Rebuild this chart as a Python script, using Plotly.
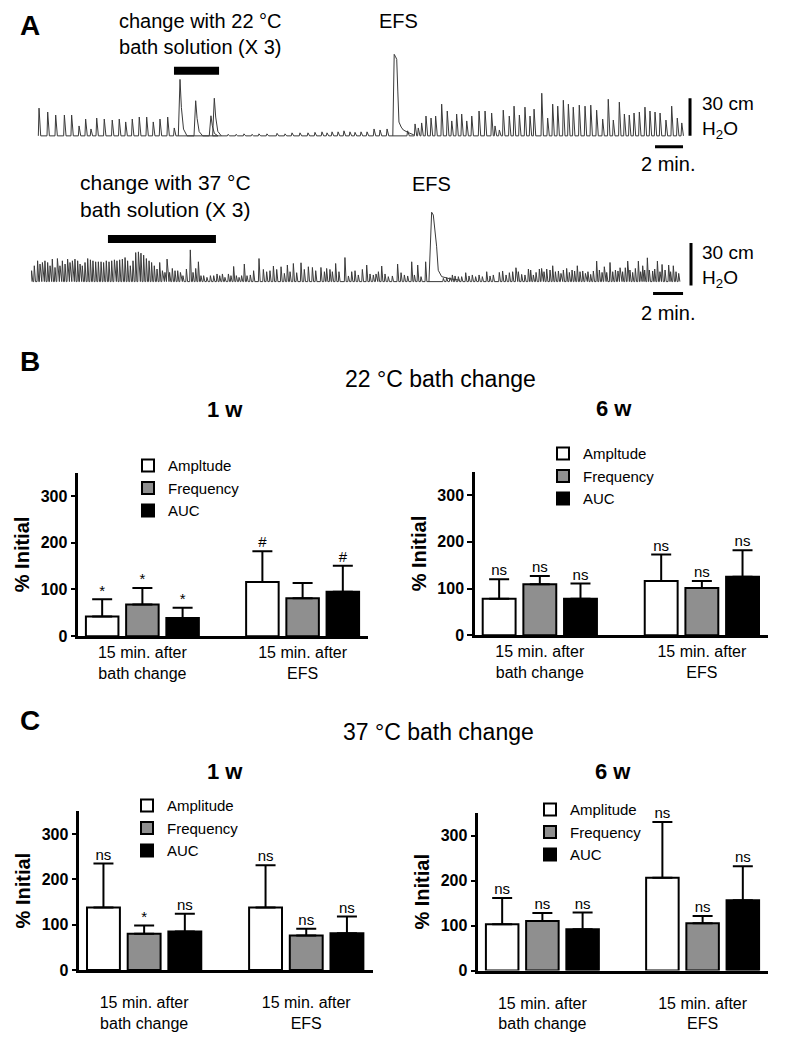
import plotly.graph_objects as go

# reference canvas size; the page body adds an 8 px margin, so the figure is
# drawn 8 px smaller and every position is shifted by that margin
W, H = 785, 1050
PAGE_MARGIN = 8
FIG_W, FIG_H = W - PAGE_MARGIN, H - PAGE_MARGIN
FONT = "Liberation Sans, Arial, sans-serif"

# ---------------------------------------------------------------------------
# Panel A: pressure recordings (time in min, pressure in cm H2O)
# ---------------------------------------------------------------------------
top_spike_t = [0.43, 1.05, 1.62, 2.24, 2.76, 3.29, 3.76, 4.14, 4.55, 5.09,
               5.66, 6.16, 6.62, 7.09, 7.59, 8.12, 8.59, 9.07, 9.62, 10.09,
               13.93, 14.5, 15.07, 15.64, 16.14, 16.71, 17.43, 18.0, 18.5, 19.07,
               19.64, 20.14, 20.64, 21.0, 21.36, 21.79, 22.21, 22.64, 23.0, 23.43,
               23.86, 24.36, 24.79, 25.29,
               26.76, 27.29, 27.52, 27.76, 28.07, 28.43, 28.76, 29.19, 29.59, 29.91,
               30.26, 30.62, 30.98, 31.34, 31.86, 32.29, 32.76, 33.0, 33.31, 33.59,
               34.02, 34.36, 34.74, 35.14, 35.5, 35.79, 36.34, 36.76, 37.12, 37.48,
               37.88, 38.24, 38.59, 39.02, 39.43, 39.84, 40.26, 40.69, 41.09, 41.45,
               41.88, 42.24, 42.59, 42.93, 43.31, 43.71, 44.07, 44.43, 44.79, 45.21,
               45.62, 46.02, 46.34]
top_spike_h = [22.1, 19.0, 16.6, 16.6, 16.6, 7.9, 13.4, 5.5, 14.2, 13.4,
               12.6, 13.4, 11.1, 13.4, 15.0, 15.0, 11.1, 13.4, 15.0, 6.3,
               1.2, 1.2, 1.6, 1.2, 1.6, 1.6, 2.0, 1.6, 2.4, 2.4,
               2.4, 2.8, 3.2, 2.4, 3.2, 3.2, 4.0, 3.2, 2.8, 3.2,
               3.2, 5.5, 4.7, 5.5,
               4.0, 9.5, 6.3, 10.3, 15.8, 14.2, 15.8, 25.3, 19.8, 11.9,
               17.4, 17.4, 11.9, 15.8, 19.8, 19.8, 18.2, 7.9, 4.7, 20.5,
               15.8, 23.7, 16.6, 22.9, 15.8, 21.3, 34.0, 14.2, 25.3, 23.7,
               28.4, 25.3, 22.9, 24.5, 23.7, 24.5, 20.5, 13.4, 29.2, 12.6,
               26.9, 17.4, 16.6, 18.2, 19.0, 22.9, 19.8, 19.0, 18.2, 12.6,
               23.7, 14.2, 10.3]
top_slow_t = [10.5, 11.62, 12.71, 12.95]
top_slow_h = [45.0, 28.0, 16.0, 30.0]
top_efs_t = [25.70, 25.76, 25.80, 25.90, 25.98, 26.06, 26.14, 26.30, 26.45, 26.81, 27.2]
top_efs_p = [0, 50, 65, 63, 61, 35, 11, 7, 4.7, 2.6, 0.8]
top_bath = [10.07, 13.29]

bot_spike_t = [0.04, 0.22, 0.44, 0.60, 0.76, 0.93, 1.11, 1.27, 1.42, 1.60,
               1.76, 1.93, 2.09, 2.27, 2.44, 2.60, 2.76, 2.93, 3.11, 3.27,
               3.42, 3.60, 3.78, 3.96, 4.13, 4.31, 4.49, 4.67, 4.84, 5.02,
               5.20, 5.38, 5.56, 5.73, 5.91, 6.09, 6.27, 6.44, 6.62, 6.80,
               6.98, 7.16, 7.33, 7.51, 7.69, 7.87, 8.04, 8.22, 8.40, 8.58,
               8.76, 8.93, 9.07, 9.24, 9.42, 9.60, 9.78, 9.96, 10.13, 10.36,
               10.62, 10.80, 10.98, 11.16, 11.33, 11.51, 11.73, 11.96, 12.18, 12.40,
               12.58, 12.76, 12.93, 13.16, 13.33, 13.51, 13.69, 13.87, 14.04, 14.22,
               14.40, 14.62, 14.84,
               15.20, 15.49, 15.71, 15.93, 16.16, 16.38, 16.67, 16.89, 17.09, 17.27,
               17.49, 17.71, 18.0, 18.22, 18.49, 18.76, 18.98, 19.33, 19.56, 19.71,
               19.93, 20.09, 20.31, 20.53, 20.93, 21.16, 21.38, 21.60, 21.82, 22.09,
               22.38, 22.60, 22.82, 23.0, 23.16, 23.38, 23.60, 23.82, 24.09, 24.44,
               24.67, 24.89, 25.11, 25.38, 25.56, 25.78, 26.0, 26.31,
               27.49, 27.71, 27.93, 28.09, 28.27, 28.49, 28.71, 28.98, 29.20, 29.42,
               29.64, 29.87, 30.09, 30.38, 30.60, 30.82,
               31.22, 31.44, 31.67, 31.89, 32.11, 32.33, 32.49, 32.71, 32.93, 33.16,
               33.31, 33.49, 33.67, 33.89, 34.04, 34.20, 34.38, 34.60, 34.78, 34.96,
               35.16, 35.33, 35.49, 35.71, 35.89, 36.07, 36.24, 36.42, 36.60, 36.78,
               36.96, 37.13, 37.31, 37.49, 37.71, 37.89, 38.07, 38.22, 38.38, 38.60,
               38.78, 38.96, 39.13, 39.27, 39.44, 39.62, 39.78, 39.93, 40.11, 40.29,
               40.49, 40.64, 40.78, 40.91, 41.09, 41.22, 41.44, 41.58, 41.76, 41.93,
               42.07, 42.27, 42.51, 42.64, 42.82, 43.0, 43.18]
bot_spike_h = [7.7, 11.2, 14.7, 12.4, 13.5, 14.7, 13.5, 11.2, 15.9, 10.0,
               16.3, 11.2, 14.7, 12.4, 15.9, 13.5, 14.7, 15.9, 14.7, 12.4,
               11.2, 13.5, 16.3, 15.4, 14.7, 14.0, 14.0, 14.0, 13.5, 14.7,
               14.0, 14.7, 15.4, 14.7, 15.4, 15.9, 17.0, 14.7, 11.2, 14.7,
               20.5, 21.0, 20.1, 18.7, 16.3, 14.7, 13.5, 11.2, 8.9, 13.5,
               7.7, 6.5, 15.9, 6.5, 9.3, 7.7, 7.7, 6.5, 4.2, 8.9,
               22.4, 6.5, 9.3, 14.0, 4.2, 4.2, 3.0, 4.2, 4.2, 5.4,
               4.2, 5.4, 3.0, 5.4, 4.2, 10.7, 4.2, 3.0, 4.2, 12.4,
               4.2, 4.7, 7.7,
               16.3, 8.6, 7.0, 7.7, 11.0, 8.6, 10.5, 5.8, 11.7, 7.0,
               12.8, 6.3, 13.3, 8.6, 10.5, 10.0, 7.7, 10.0, 7.0, 9.3,
               8.6, 7.0, 12.8, 7.0, 17.0, 4.0, 7.0, 7.7, 4.7, 8.6,
               11.7, 5.4, 4.7, 5.4, 7.0, 11.0, 5.4, 3.5, 4.0, 12.4,
               6.3, 4.7, 4.0, 14.0, 4.7, 11.7, 3.5, 14.0,
               2.3, 2.8, 2.8, 4.7, 4.0, 3.5, 3.5, 6.3, 4.0, 4.7,
               3.5, 4.7, 3.5, 7.0, 4.0, 4.7,
               6.5, 7.5, 4.7, 6.3, 7.0, 9.8, 7.0, 5.1, 4.7, 8.9,
               8.2, 4.7, 6.5, 8.9, 9.3, 7.0, 8.9, 8.2, 11.2, 7.0,
               7.5, 5.8, 8.2, 9.3, 6.5, 8.2, 7.5, 11.2, 7.0, 7.5,
               5.8, 7.0, 5.1, 7.5, 14.5, 8.2, 6.5, 10.5, 6.5, 13.5,
               7.0, 8.2, 7.5, 9.8, 7.0, 9.8, 14.5, 8.2, 6.5, 9.3,
               14.5, 7.0, 11.2, 8.2, 16.8, 8.2, 7.5, 8.9, 14.5, 7.0,
               12.1, 8.2, 11.7, 7.0, 11.2, 7.0, 5.8]
bot_efs_t = [26.53, 26.63, 26.71, 26.82, 26.93, 27.04, 27.15, 27.38, 27.93, 28.6]
bot_efs_p = [0, 30, 49, 47, 38, 25, 8, 3.5, 2, 1]
bot_bath = [5.13, 12.33]

SCALE_MIN = 2
SCALE_CM = 30

# ---------------------------------------------------------------------------
# Panels B and C: % of initial (mean and upper SD)
# ---------------------------------------------------------------------------
groups = ["15 min. after<br>bath change", "15 min. after<br>EFS"]
names_b = ["Ampltude", "Frequency", "AUC"]
names_c = ["Amplitude", "Frequency", "AUC"]

b1_mean = [[42, 116], [68, 81], [39, 95]]
b1_err = [[37, 66], [35, 33], [22, 56]]
b1_sig = [["*", "#"], ["*", ""], ["*", "#"]]

b6_mean = [[78, 116], [109, 101], [78, 125]]
b6_err = [[42, 57], [18, 15], [33, 57]]
b6_sig = [["ns", "ns"], ["ns", "ns"], ["ns", "ns"]]

c1_mean = [[138, 138], [80, 76], [85, 81]]
c1_err = [[97, 93], [18, 15], [39, 37]]
c1_sig = [["ns", "ns"], ["*", "ns"], ["ns", "ns"]]

c6_mean = [[103, 206], [110, 105], [92, 156]]
c6_err = [[58, 124], [18, 16], [37, 76]]
c6_sig = [["ns", "ns"], ["ns", "ns"], ["ns", "ns"]]

BAR_COLORS = ["white", "#8f8f8f", "black"]


def px(x, y):
    """Reference pixel position -> paper coordinates."""
    return (x - PAGE_MARGIN) / FIG_W, 1 - (y - PAGE_MARGIN) / FIG_H


def dom_x(left, right):
    return [px(left, 0)[0], px(right, 0)[0]]


def dom_y(bottom, top):
    return [px(0, bottom)[1], px(0, top)[1]]


def spike_line(ts, hs, rise, fall):
    xs, ys = [], []
    for t, h in zip(ts, hs):
        xs += [t - rise, t, t + fall]
        ys += [0, h, 0]
    return xs, ys


def slow_line(ts, hs):
    xs, ys = [], []
    for t, h in zip(ts, hs):
        xs += [t - 0.12, t, t + 0.1, t + 0.25, t + 0.5]
        ys += [0, h, 0.5 * h, 0.12 * h, 0]
    return xs, ys


fig = go.Figure()

trace_line = dict(color="#3a3a3a", width=1)
xs, ys = spike_line(top_spike_t, top_spike_h, 0.05, 0.12)
fig.add_trace(go.Scatter(x=xs, y=ys, mode="lines", line=trace_line,
                         xaxis="x5", yaxis="y5", showlegend=False, hoverinfo="skip"))
xs, ys = slow_line(top_slow_t, top_slow_h)
fig.add_trace(go.Scatter(x=xs, y=ys, mode="lines", line=trace_line,
                         xaxis="x5", yaxis="y5", showlegend=False, hoverinfo="skip"))
fig.add_trace(go.Scatter(x=top_efs_t, y=top_efs_p, mode="lines", line=trace_line,
                         xaxis="x5", yaxis="y5", showlegend=False, hoverinfo="skip"))

xs, ys = spike_line(bot_spike_t, bot_spike_h, 0.04, 0.08)
fig.add_trace(go.Scatter(x=xs, y=ys, mode="lines", line=trace_line,
                         xaxis="x6", yaxis="y6", showlegend=False, hoverinfo="skip"))
fig.add_trace(go.Scatter(x=bot_efs_t, y=bot_efs_p, mode="lines", line=trace_line,
                         xaxis="x6", yaxis="y6", showlegend=False, hoverinfo="skip"))

# bar panels: (axis suffix, legend name, series names, means, errors, labels)
panels = [
    ("", "legend", names_b, b1_mean, b1_err, b1_sig),
    ("2", "legend2", names_b, b6_mean, b6_err, b6_sig),
    ("3", "legend3", names_c, c1_mean, c1_err, c1_sig),
    ("4", "legend4", names_c, c6_mean, c6_err, c6_sig),
]
STEP, BW = 0.251, 0.203
for ax, leg, names, means, errs, sigs in panels:
    for i, (name, m, e, s) in enumerate(zip(names, means, errs, sigs)):
        xpos = [g + (i - 1) * STEP for g in range(len(groups))]
        fig.add_trace(go.Bar(
            x=xpos, y=m, width=BW, name=name,
            marker=dict(color=BAR_COLORS[i], line=dict(color="black", width=2)),
            error_y=dict(type="data", array=e, arrayminus=[0] * len(e), symmetric=False,
                         thickness=2, width=10, color="black"),
            xaxis="x" + ax, yaxis="y" + ax, legend=leg,
            legendgroup=leg + name, hoverinfo="skip",
        ))
        keep = [k for k, lab in enumerate(s) if lab]
        fig.add_trace(go.Scatter(
            x=[xpos[k] for k in keep], y=[m[k] + e[k] for k in keep],
            text=[s[k] for k in keep],
            mode="text", textposition="top center",
            textfont=dict(size=15, color="black"), cliponaxis=False,
            xaxis="x" + ax, yaxis="y" + ax, showlegend=False, hoverinfo="skip",
        ))

# axis geometry in reference pixels: (x_left, x_right, y_zero, y_top, label standoff)
bar_axes = {
    "": (78.3, 368.3, 641.7, 476.7, 0),
    "2": (475.0, 768.3, 640.7, 475.8, 0),
    "3": (79.3, 372.7, 978.3, 818.3, 16),
    "4": (478.3, 768.3, 979.0, 820.0, 16),
}
layout_axes = {}
for ax, (xl, xr, y0, yt, standoff) in bar_axes.items():
    layout_axes["xaxis" + ax] = dict(
        domain=dom_x(xl, xr), range=[-0.4, 1.41], anchor="y" + ax,
        tickvals=list(range(len(groups))), ticktext=groups, ticks="",
        tickfont=dict(size=16, color="black"), ticklabelstandoff=standoff,
        showline=True, linecolor="black", linewidth=2.5, showgrid=False,
        zeroline=False, fixedrange=True,
    )
    layout_axes["yaxis" + ax] = dict(
        domain=dom_y(y0, yt), range=[0, 350], anchor="x" + ax,
        tickvals=[0, 100, 200, 300], ticks="outside", ticklen=5, tickwidth=2,
        tickcolor="black", tickfont=dict(size=16, color="black", weight="bold"),
        showline=True, linecolor="black", linewidth=2.5, showgrid=False,
        zeroline=False, fixedrange=True,
        title=dict(text="% Initial", font=dict(size=20, color="black", weight="bold"),
                   standoff=6),
    )

layout_axes["xaxis5"] = dict(domain=dom_x(33, 775), range=[0, 53.0], anchor="y5",
                             visible=False, fixedrange=True)
layout_axes["yaxis5"] = dict(domain=dom_y(160, 45), range=[-18.2, 72.7],
                             anchor="x5", visible=False, fixedrange=True)
layout_axes["xaxis6"] = dict(domain=dom_x(31, 775), range=[0, 49.6], anchor="y6",
                             visible=False, fixedrange=True)
layout_axes["yaxis6"] = dict(domain=dom_y(320, 195), range=[-25.2, 62.3],
                             anchor="x6", visible=False, fixedrange=True)

shapes = [
    dict(type="line", xref="x5", yref="y5", x0=top_bath[0], x1=top_bath[1], y0=52, y1=52,
         line=dict(color="black", width=8)),
    dict(type="line", xref="x5", yref="y5", x0=46.93, x1=46.93, y0=0, y1=SCALE_CM,
         line=dict(color="black", width=3)),
    dict(type="line", xref="x5", yref="y5", x0=46.43 - SCALE_MIN, x1=46.43, y0=-8.7, y1=-8.7,
         line=dict(color="black", width=3)),
    dict(type="line", xref="x6", yref="y6", x0=bot_bath[0], x1=bot_bath[1], y0=30, y1=30,
         line=dict(color="black", width=8)),
    dict(type="line", xref="x6", yref="y6", x0=44.0, x1=44.0, y0=-2.8, y1=SCALE_CM - 2.8,
         line=dict(color="black", width=3)),
    dict(type="line", xref="x6", yref="y6", x0=43.47 - SCALE_MIN, x1=43.47, y0=-8.4, y1=-8.4,
         line=dict(color="black", width=3)),
]


def label(text, x, y, size, bold=False, xanchor="center", yanchor="middle"):
    ax, ay = px(x, y)
    return dict(text=text, x=ax, y=ay, xref="paper", yref="paper", showarrow=False,
                xanchor=xanchor, yanchor=yanchor, align=xanchor if xanchor != "center" else "center",
                font=dict(size=size, color="black", family=FONT,
                          weight="bold" if bold else "normal"))


scale_text = f"{SCALE_CM} cm<br>H<sub>2</sub>O"
annotations = [
    # top-row texts are pinned to the top edge of the drawing area
    label("A", 30, PAGE_MARGIN, 28, True, yanchor="top"),
    label("change with 22 °C<br>bath solution (X 3)", 200, PAGE_MARGIN, 20, yanchor="top"),
    label("EFS", 398, PAGE_MARGIN, 20, yanchor="top"),
    label(scale_text, 700, 118, 19, xanchor="left"),
    label(f"{SCALE_MIN} min.", 668, 165, 20),
    label("change with 37 °C<br>bath solution (X 3)", 165, 198, 21),
    label("EFS", 432, 186, 20),
    label(scale_text, 700, 269, 19, xanchor="left"),
    label(f"{SCALE_MIN} min.", 668, 316, 20),
    label("B", 30, 365, 28, True),
    label("22 °C bath change", 440, 382, 23),
    label("1 w", 225, 413, 22, True),
    label("6 w", 614, 412, 22, True),
    label("C", 30, 727, 28, True),
    label("37 °C bath change", 438, 738, 23),
    label("1 w", 225, 778, 22, True),
    label("6 w", 613, 778, 22, True),
]


def legend_at(x, y):
    lx, ly = px(x, y)
    return dict(x=lx, y=ly, xanchor="left", yanchor="top", bgcolor="rgba(0,0,0,0)",
                font=dict(size=15, color="black", family=FONT), tracegroupgap=0,
                itemclick=False, itemdoubleclick=False)


fig.update_layout(
    width=FIG_W, height=FIG_H,
    margin=dict(l=0, r=0, t=0, b=0),
    paper_bgcolor="white", plot_bgcolor="white",
    font=dict(family=FONT, color="black"),
    barmode="overlay",
    showlegend=True,
    legend=legend_at(128, 453),
    legend2=legend_at(543, 441),
    legend3=legend_at(127, 796),
    legend4=legend_at(530, 800),
    shapes=shapes,
    annotations=annotations,
    **layout_axes,
)

fig.write_html("out.html")
